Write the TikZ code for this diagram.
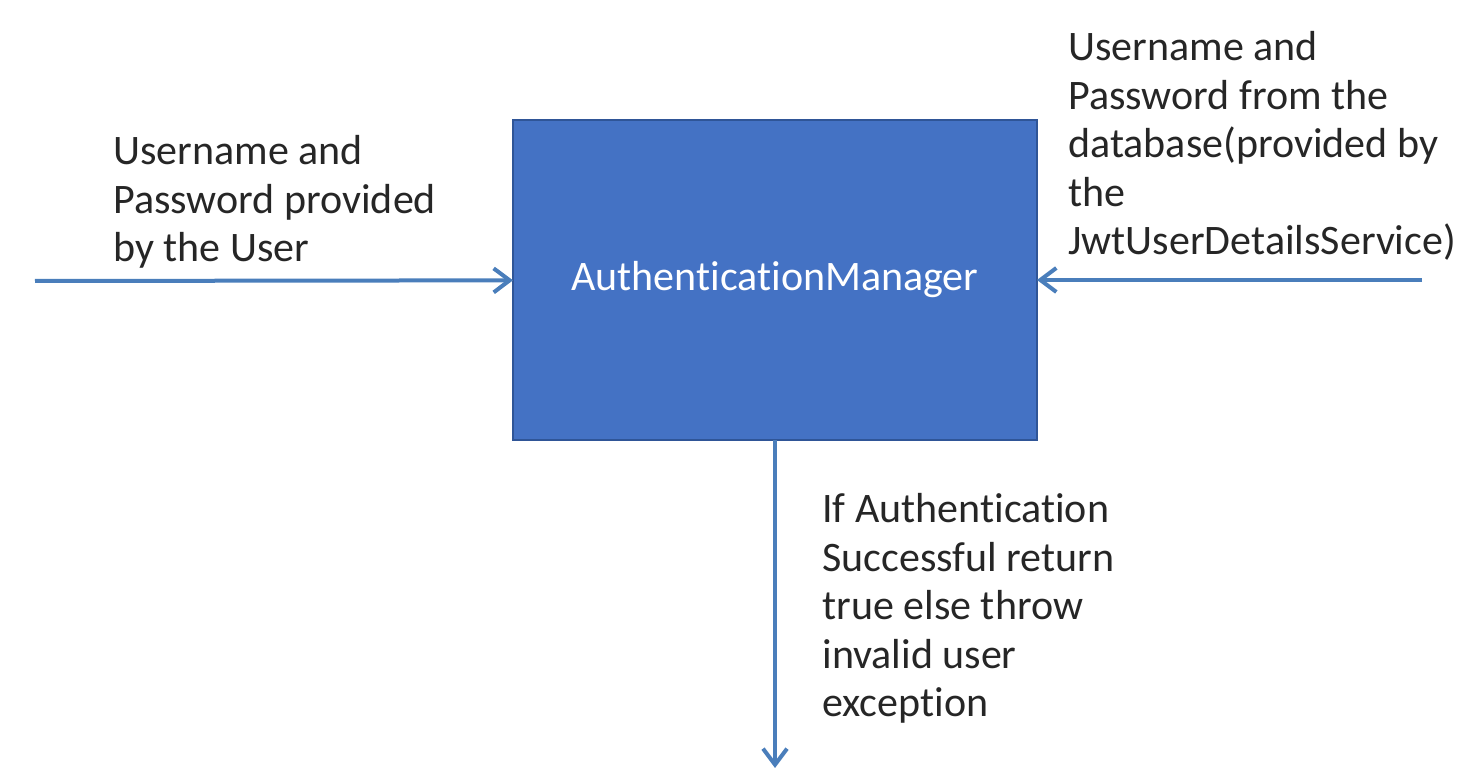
\documentclass[tikz,border=0pt]{standalone}
\usepackage{fontspec}
\setmainfont[Ligatures=NoCommon]{Carlito}
\usepackage{tikz}
\usetikzlibrary{arrows.meta}

\definecolor{boxblue}{HTML}{4472C4}
\definecolor{boxedge}{HTML}{2F5597}
\definecolor{arrowblue}{HTML}{4A7EBB}
\definecolor{inkgray}{HTML}{262626}

\begin{document}
\begin{tikzpicture}[x=0.5pt,y=-0.5pt,>={Straight Barb[length=8pt,width=12pt]},
    flow/.style={->,draw=arrowblue,line width=2pt},
    manager/.style={rectangle,fill=boxblue,draw=boxedge,line width=1.2pt,
      minimum width=262pt,minimum height=160pt,inner sep=0pt,outer sep=0pt,
      text=white,font=\fontsize{21}{24.25}\selectfont},
    note/.style={anchor=base west,align=left,inner sep=0pt,text=inkgray,
      font=\fontsize{21}{24.25}\selectfont}]
  \useasboundingbox (0,0) rectangle (1480,774);

  \node[manager] (M) at (775,280) {AuthenticationManager};

  \coordinate (user) at (35,281);
  \coordinate (db)   at (1422,280);
  \coordinate (out)  at (775,768);

  % notes are anchored at the baseline of their last line
  \node[note] (userText) at (113,262) {Username and\\Password provided\\by the User};
  \node[note] (dbText)   at (1068,255) {Username and\\Password from the\\database(provided by\\the\\JwtUserDetailsService)};
  \node[note] (outText)  at (822,717) {If Authentication\\Successful return\\true else throw\\invalid user\\exception};

  \path (user) edge [flow] (M)
        (db)   edge [flow] (M)
        (M)    edge [flow] (out);
\end{tikzpicture}
\end{document}
